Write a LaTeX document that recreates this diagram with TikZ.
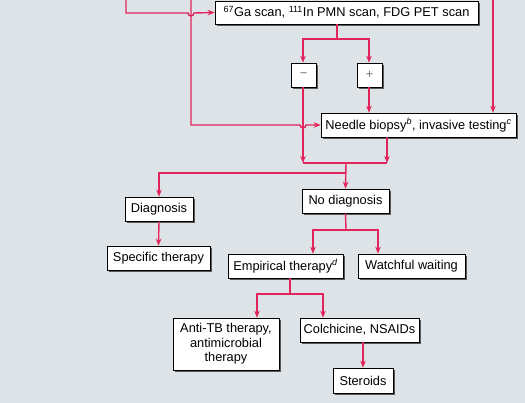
\documentclass[tikz,border=0pt]{standalone}
\usepackage{fontspec}
\setmainfont{Liberation Sans}
\usetikzlibrary{shadows,arrows.meta}
\definecolor{bg}{HTML}{DEE3E8}
\definecolor{ln}{HTML}{E2245C}
\begin{document}
\begin{tikzpicture}[x=1pt,y=-1pt,
  box/.style={draw=black,line width=0.6pt,fill=white,inner sep=0pt,align=center,
    font=\fontsize{12.8}{14.5}\selectfont,
    drop shadow={shadow xshift=1.6pt,shadow yshift=-1.6pt,fill=black!65,opacity=1}},
  sign/.style={box,text=black!55,minimum width=25pt,minimum height=24pt},
  conn/.style={draw=ln,line width=1.4pt},
  arr/.style={conn,-{Stealth[length=7pt,width=5.5pt]}}]
\fill[bg] (0,0) rectangle (525,403);
\useasboundingbox (0,0) rectangle (525,403);
% nodes
\node[box,minimum width=263pt,minimum height=23pt] (scan) at (346.5,12.5) {\textsuperscript{67}Ga scan, \textsuperscript{111}In PMN scan, FDG PET scan};
\node[sign] (neg) at (303.5,75) {−};
\node[sign] (pos) at (369.5,75) {+};
\node[box,minimum width=195pt,minimum height=24pt] (needle) at (418.5,125) {Needle biopsy\textsuperscript{\itshape b}, invasive testing\textsuperscript{\itshape c}};
\node[box,minimum width=68pt,minimum height=24pt] (diag) at (159,209) {Diagnosis};
\node[box,minimum width=103pt,minimum height=24pt] (spec) at (158.5,258) {Specific therapy};
\node[box,minimum width=87pt,minimum height=24pt] (nodiag) at (345.5,201) {No diagnosis};
\node[box,minimum width=115pt,minimum height=24pt] (emp) at (285.5,266) {Empirical therapy\textsuperscript{\itshape d}};
\node[box,minimum width=107pt,minimum height=24pt] (watch) at (411.5,266) {Watchful waiting};
\node[box,minimum width=106pt,minimum height=52pt] (antitb) at (226,344) {Anti-TB therapy,\\antimicrobial\\therapy};
\node[box,minimum width=119pt,minimum height=24pt] (colch) at (359.5,330) {Colchicine, NSAIDs};
\node[box,minimum width=60pt,minimum height=25pt] (ster) at (363,380.5) {Steroids};
% coordinates
\coordinate (s1) at (126,0);
\coordinate (s2) at (191,0);
\coordinate (s3) at (493,0);
\coordinate (sp) at (337,39);
\coordinate (bl) at (303,163);
\coordinate (br) at (387,163);
\coordinate (bar) at (346,163);
\coordinate (j1) at (346,173);
\coordinate (j2) at (346,230);
\coordinate (j3) at (290,294);
\coordinate (xn) at (303,0);
\coordinate (xp) at (369,0);
% connectors
\draw[arr] (s1) -- (126,13) -- (188,13) arc[start angle=180,end angle=0,radius=3] -- (scan.west);
\draw[arr] (s2) -- (191,125) -- (300,125) arc[start angle=180,end angle=0,radius=3] -- (needle.west);
\draw[arr] (s3) -- (s3 |- needle.north);
\draw[conn] (sp |- scan.south) -- (sp);
\draw[arr] (sp) -| (xn |- neg.north);
\draw[arr] (sp) -| (xp |- pos.north);
\draw[arr] (xp |- pos.south) -- (xp |- needle.north);
\draw[arr] (xn |- neg.south) -- (bl);
\draw[arr] (br |- needle.south) -- (br);
\draw[conn] (bl) -- (br);
\draw[arr] (bar) -- (nodiag.north);
\draw[arr] (j1) -| (diag.north);
\draw[arr] (diag.south) -- (spec.north);
\draw[conn] (nodiag.south) -- (j2);
\draw[arr] (j2) -| (emp.north -| 313,0);
\draw[arr] (j2) -| (watch.north -| 378,0);
\draw[conn] (j3 |- emp.south) -- (j3);
\draw[arr] (j3) -| (antitb.north -| 257,0);
\draw[arr] (j3) -| (colch.north -| 323,0);
\draw[arr] (colch.south -| 363,0) -- (ster.north);
\end{tikzpicture}
\end{document}
